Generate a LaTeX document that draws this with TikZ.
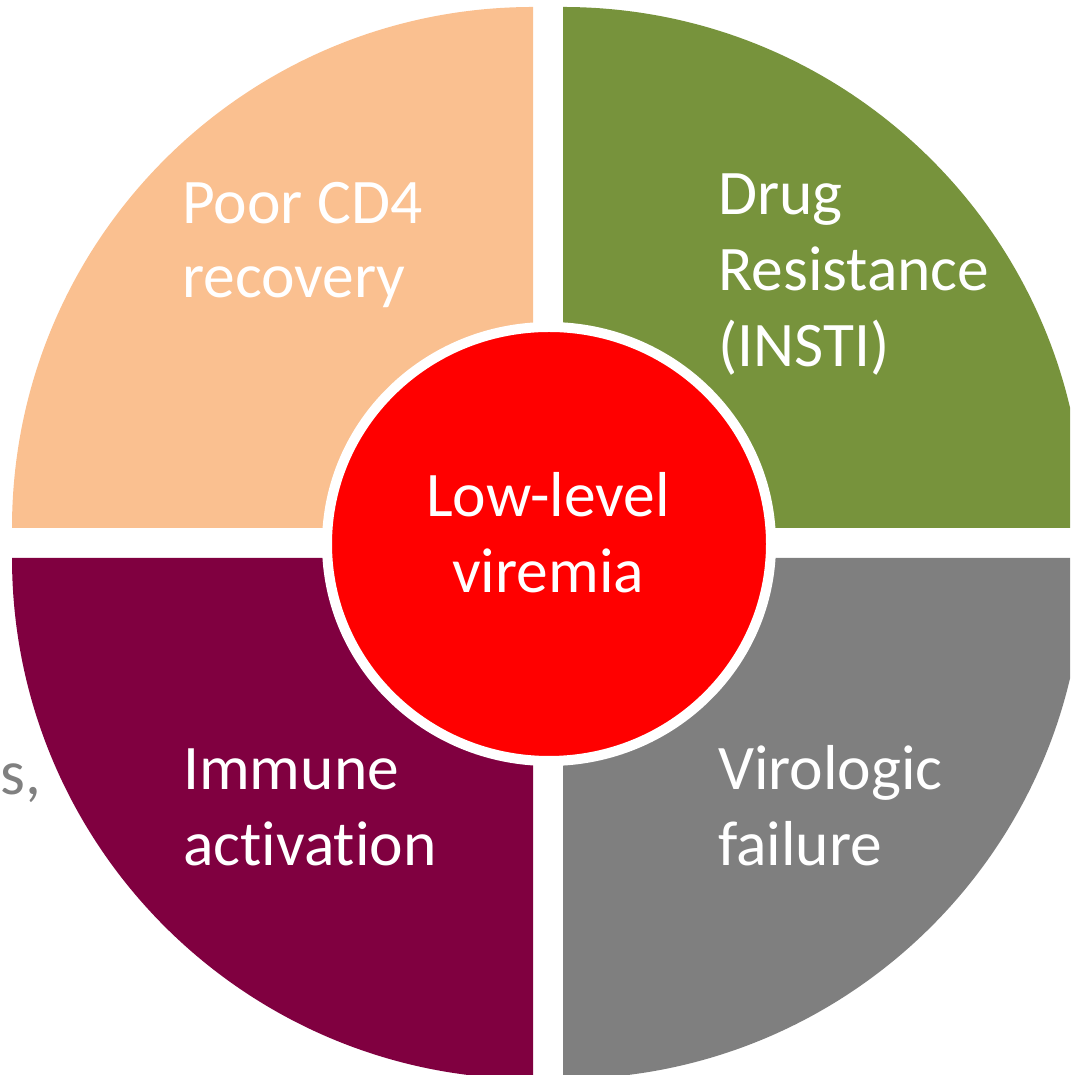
\documentclass[tikz,border=0pt]{standalone}
\usepackage{fontspec}
\setmainfont{Carlito}[Ligatures=NoCommon]
\usetikzlibrary{shapes.geometric}

\definecolor{poorcol}{HTML}{FAC090}
\definecolor{drugcol}{HTML}{77933C}
\definecolor{immcol}{HTML}{800040}
\definecolor{virocol}{HTML}{7F7F7F}
\definecolor{sidegray}{HTML}{808080}

\tikzset{
  lbl/.style={text=white, inner sep=0pt, font=\fontsize{63.5}{76}\selectfont},
  core/.style={ellipse, fill=red, draw=white, line width=10pt, inner sep=0pt}
}

\begin{document}
\begin{tikzpicture}[x=1pt, y=1pt]

 \def\rad{521};
 \def\gap{15};
 \def\cx{548};
 \def\cy{532};

 \useasboundingbox (0,0) rectangle (1070,1075);
 \clip (0,0) rectangle (1070,1075);

	%draw quarters
    \foreach \a/\sx/\sy/\col in {0/1/1/drugcol, 90/-1/1/poorcol, 180/-1/-1/immcol, 270/1/-1/virocol}{
         \fill[\col] (\cx+\sx*\gap, \cy+\sy*\gap) -- ++(\a:\rad pt) arc[start angle=\a, delta angle=90, radius=\rad pt] -- cycle;
    }

	%draw center
 \node[core, minimum width=444pt, minimum height=434pt] (llv) at (549,531) {};

	%draw labels
    \foreach \x/\y/\txt/\name in {182/851/Poor CD4/poor1, 182/777/recovery/poor2,
                                   718/860/Drug/drug1, 718/784/Resistance/drug2, 718/708/(INSTI)/drug3,
                                   183/285/Immune/imm1, 183/209/activation/imm2,
                                   718/285/Virologic/viro1, 718/209/failure/viro2}{
         \node[lbl, anchor=base west] (\name) at (\x,\y) {\txt};
    }

    \foreach \y/\txt/\name in {558/Low-level/llv1, 482/viremia/llv2}{
         \node[lbl, anchor=base] (\name) at (\cx,\y) {\txt};
    }

 \node[lbl, text=sidegray, anchor=base west] (cut) at (0,280) {s,};

\end{tikzpicture}
\end{document}
